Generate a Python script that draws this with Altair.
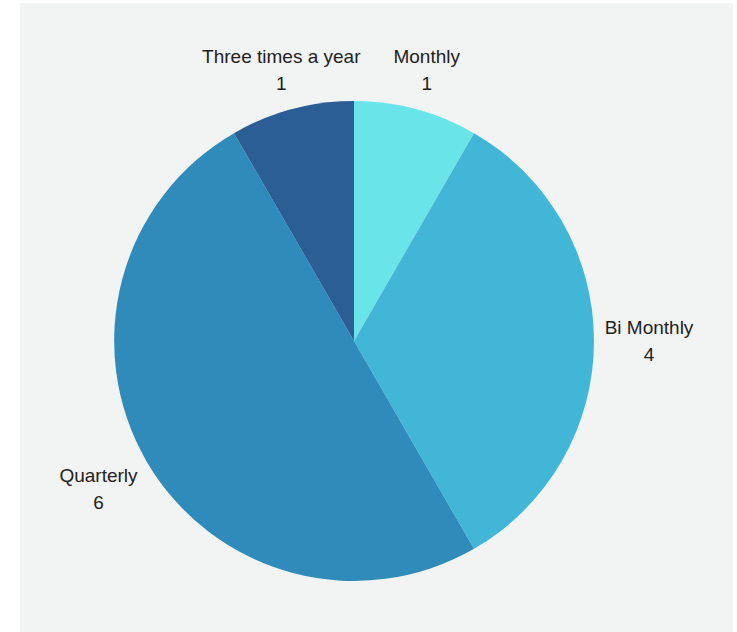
import altair as alt
import pandas as pd

categories = ["Monthly", "Bi Monthly", "Quarterly", "Three times a year"]
values = [1, 4, 6, 1]
colors = ["#69E5EA", "#41B6D6", "#2E8BBA", "#2C5E96"]

df = pd.DataFrame({"name": categories, "value": values, "order": list(range(len(categories)))})

cx, cy = 334, 338

pie = alt.Chart(df).mark_arc(outerRadius=240, strokeWidth=0).encode(
    theta=alt.Theta("value:Q", stack=True),
    order=alt.Order("order:Q"),
    color=alt.Color("name:N", scale=alt.Scale(domain=categories, range=colors), legend=None),
    x=alt.value(cx),
    y=alt.value(cy),
)

labels = alt.Chart(df).transform_window(
    cum="sum(value)", sort=[alt.SortField("order")], frame=[None, 0]
).transform_calculate(
    mid="datum.cum - datum.value / 2",
    label="datum.name + '\\n' + datum.value",
    r="(datum.name == 'Monthly' || datum.name == 'Three times a year') ? 281 : 295",
).mark_text(
    font="Liberation Sans", fontSize=19, color="#222222", lineBreak="\n",
    lineHeight=27, align="center", baseline="middle", dy=-13
).encode(
    theta=alt.Theta("mid:Q", stack=None),
    radius=alt.Radius("r:Q", scale=None),
    text="label:N",
    x=alt.value(cx),
    y=alt.value(cy),
)

chart = alt.layer(pie, labels).properties(
    width=713, height=629,
    padding={"left": 20, "top": 3, "right": 4, "bottom": 0},
    background="#ffffff",
    autosize=alt.AutoSizeParams(type="none"),
).configure_view(fill="#F2F3F3", stroke=None)

chart.save("out.html", embed_options={"renderer": "svg", "actions": False})
